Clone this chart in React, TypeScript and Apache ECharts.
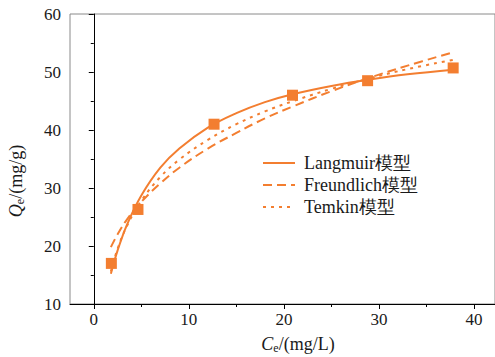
import React, { useEffect, useRef } from "react";
import * as echarts from "echarts";

// Experimental points
const expC = [1.85, 4.65, 12.65, 20.9, 28.8, 37.8];
const expQ = [17.0, 26.3, 41.0, 46.0, 48.5, 50.7];

// Model curves
const fitC = [1.8, 2.5, 3.5, 5, 7, 9, 12, 15, 18, 21, 25, 29, 33, 37.8];
const langmuirQ = [15.2, 19.2, 23.7, 28.7, 33.5, 36.8, 40.4, 42.9, 44.8, 46.2, 47.6, 48.7, 49.6, 50.4];
const freundlichQ = [19.8, 22.0, 24.6, 27.6, 30.8, 33.5, 36.8, 39.5, 42.0, 44.1, 46.7, 49.0, 51.1, 53.4];
const temkinQ = [15.6, 19.5, 23.5, 27.8, 31.9, 34.9, 38.3, 41.0, 43.2, 45.0, 47.1, 48.9, 50.5, 52.1];

const seriesNames = ["Langmuir模型", "Freundlich模型", "Temkin模型"];
const xTicks = [0, 10, 20, 30, 40];
const xMinorTicks = [5, 15, 25, 35];

const ORANGE = "#F37E30";
const FONT = "'Times New Roman', 'Liberation Serif', Tinos, serif";
const TXT = "#1a1a1a";

const pairs = (xs: number[], ys: number[]) => xs.map((x, i) => [x, ys[i]]);

export default function App() {
  const ref = useRef<HTMLDivElement>(null);
  useEffect(() => {
    if (!ref.current) return;
    const chart = echarts.init(ref.current, undefined, { renderer: "svg" });
    const axisLabelStyle = { fontFamily: FONT, fontSize: 17, color: TXT };
    const richTitle = {
      i: { fontFamily: FONT, fontSize: 18, fontStyle: "italic", fill: TXT, color: TXT },
      s: { fontFamily: FONT, fontSize: 12, fill: TXT, color: TXT, padding: [8, 0, 0, 0] },
      n: { fontFamily: FONT, fontSize: 18, fill: TXT, color: TXT },
    };
    chart.setOption({
      animation: false,
      backgroundColor: "#fff",
      textStyle: { fontFamily: FONT },
      grid: {
        left: 70,
        top: 14,
        width: 425,
        height: 290,
        show: true,
        borderColor: "#8a8a8a",
        borderWidth: 1,
        containLabel: false,
      },
      legend: {
        orient: "vertical",
        left: 257,
        top: 149,
        itemWidth: 32,
        itemHeight: 14,
        itemGap: 4,
        data: seriesNames,
        itemStyle: { opacity: 0 },
        textStyle: { fontFamily: FONT, fontSize: 18, color: TXT, padding: [0, 0, 0, 4] },
      },
      xAxis: [
        {
          type: "value",
          min: -2.5,
          max: 42.2,
          position: "bottom",
          axisLine: { show: true, lineStyle: { color: "#000", width: 1 } },
          axisTick: { show: true, inside: false, length: 5, customValues: xTicks, lineStyle: { color: "#000" } },
          axisLabel: { show: true, customValues: xTicks, margin: 7, ...axisLabelStyle },
          splitLine: { show: false },
        },
        {
          type: "value",
          min: -2.5,
          max: 42.2,
          position: "top",
          offset: -290,
          axisLine: { show: false },
          axisTick: { show: true, inside: true, length: 3, customValues: xMinorTicks, lineStyle: { color: "#000" } },
          axisLabel: { show: false },
          splitLine: { show: false },
        },
      ],
      yAxis: {
        type: "value",
        min: 10,
        max: 60,
        interval: 10,
        axisLine: { show: true, lineStyle: { color: "#000", width: 1 } },
        axisTick: { show: true, inside: false, length: 5, lineStyle: { color: "#000" } },
        minorTick: { show: true, splitNumber: 2, length: 3, lineStyle: { color: "#000" } },
        axisLabel: { margin: 9, ...axisLabelStyle },
        splitLine: { show: false },
        minorSplitLine: { show: false },
      },
      graphic: [
        {
          type: "text",
          x: 16,
          y: 181,
          rotation: Math.PI / 2,
          style: {
            text: "{i|Q}{s|e}{n|/(mg/g)}",
            fontFamily: FONT,
            fontSize: 18,
            textAlign: "center",
            textVerticalAlign: "middle",
            fill: TXT,
            rich: richTitle,
          },
        },
        {
          type: "text",
          x: 298,
          y: 344,
          style: {
            text: "{i|C}{s|e}{n|/(mg/L)}",
            fontFamily: FONT,
            fontSize: 18,
            textAlign: "center",
            textVerticalAlign: "middle",
            fill: TXT,
            rich: richTitle,
          },
        },
      ],
      series: [
        {
          name: seriesNames[0],
          type: "line",
          xAxisIndex: 0,
          data: pairs(fitC, langmuirQ),
          smooth: 0.4,
          symbol: "none",
          lineStyle: { color: ORANGE, width: 2, type: "solid" },
          itemStyle: { color: ORANGE },
        },
        {
          name: seriesNames[1],
          type: "line",
          xAxisIndex: 0,
          data: pairs(fitC, freundlichQ),
          smooth: 0.4,
          symbol: "none",
          lineStyle: { color: ORANGE, width: 2, type: [9, 5] },
          itemStyle: { color: ORANGE },
        },
        {
          name: seriesNames[2],
          type: "line",
          xAxisIndex: 0,
          data: pairs(fitC, temkinQ),
          smooth: 0.4,
          symbol: "none",
          lineStyle: { color: ORANGE, width: 2, type: [3, 5] },
          itemStyle: { color: ORANGE },
        },
        {
          name: "实验数据",
          type: "scatter",
          xAxisIndex: 0,
          data: pairs(expC, expQ),
          symbol: "rect",
          symbolSize: 11,
          itemStyle: { color: ORANGE, opacity: 1 },
          z: 5,
        },
      ],
    });
    return () => chart.dispose();
  }, []);
  return (
    <div
      ref={ref}
      style={{ position: "absolute", left: 0, top: 0, width: 495, height: 357 }}
    />
  );
}
